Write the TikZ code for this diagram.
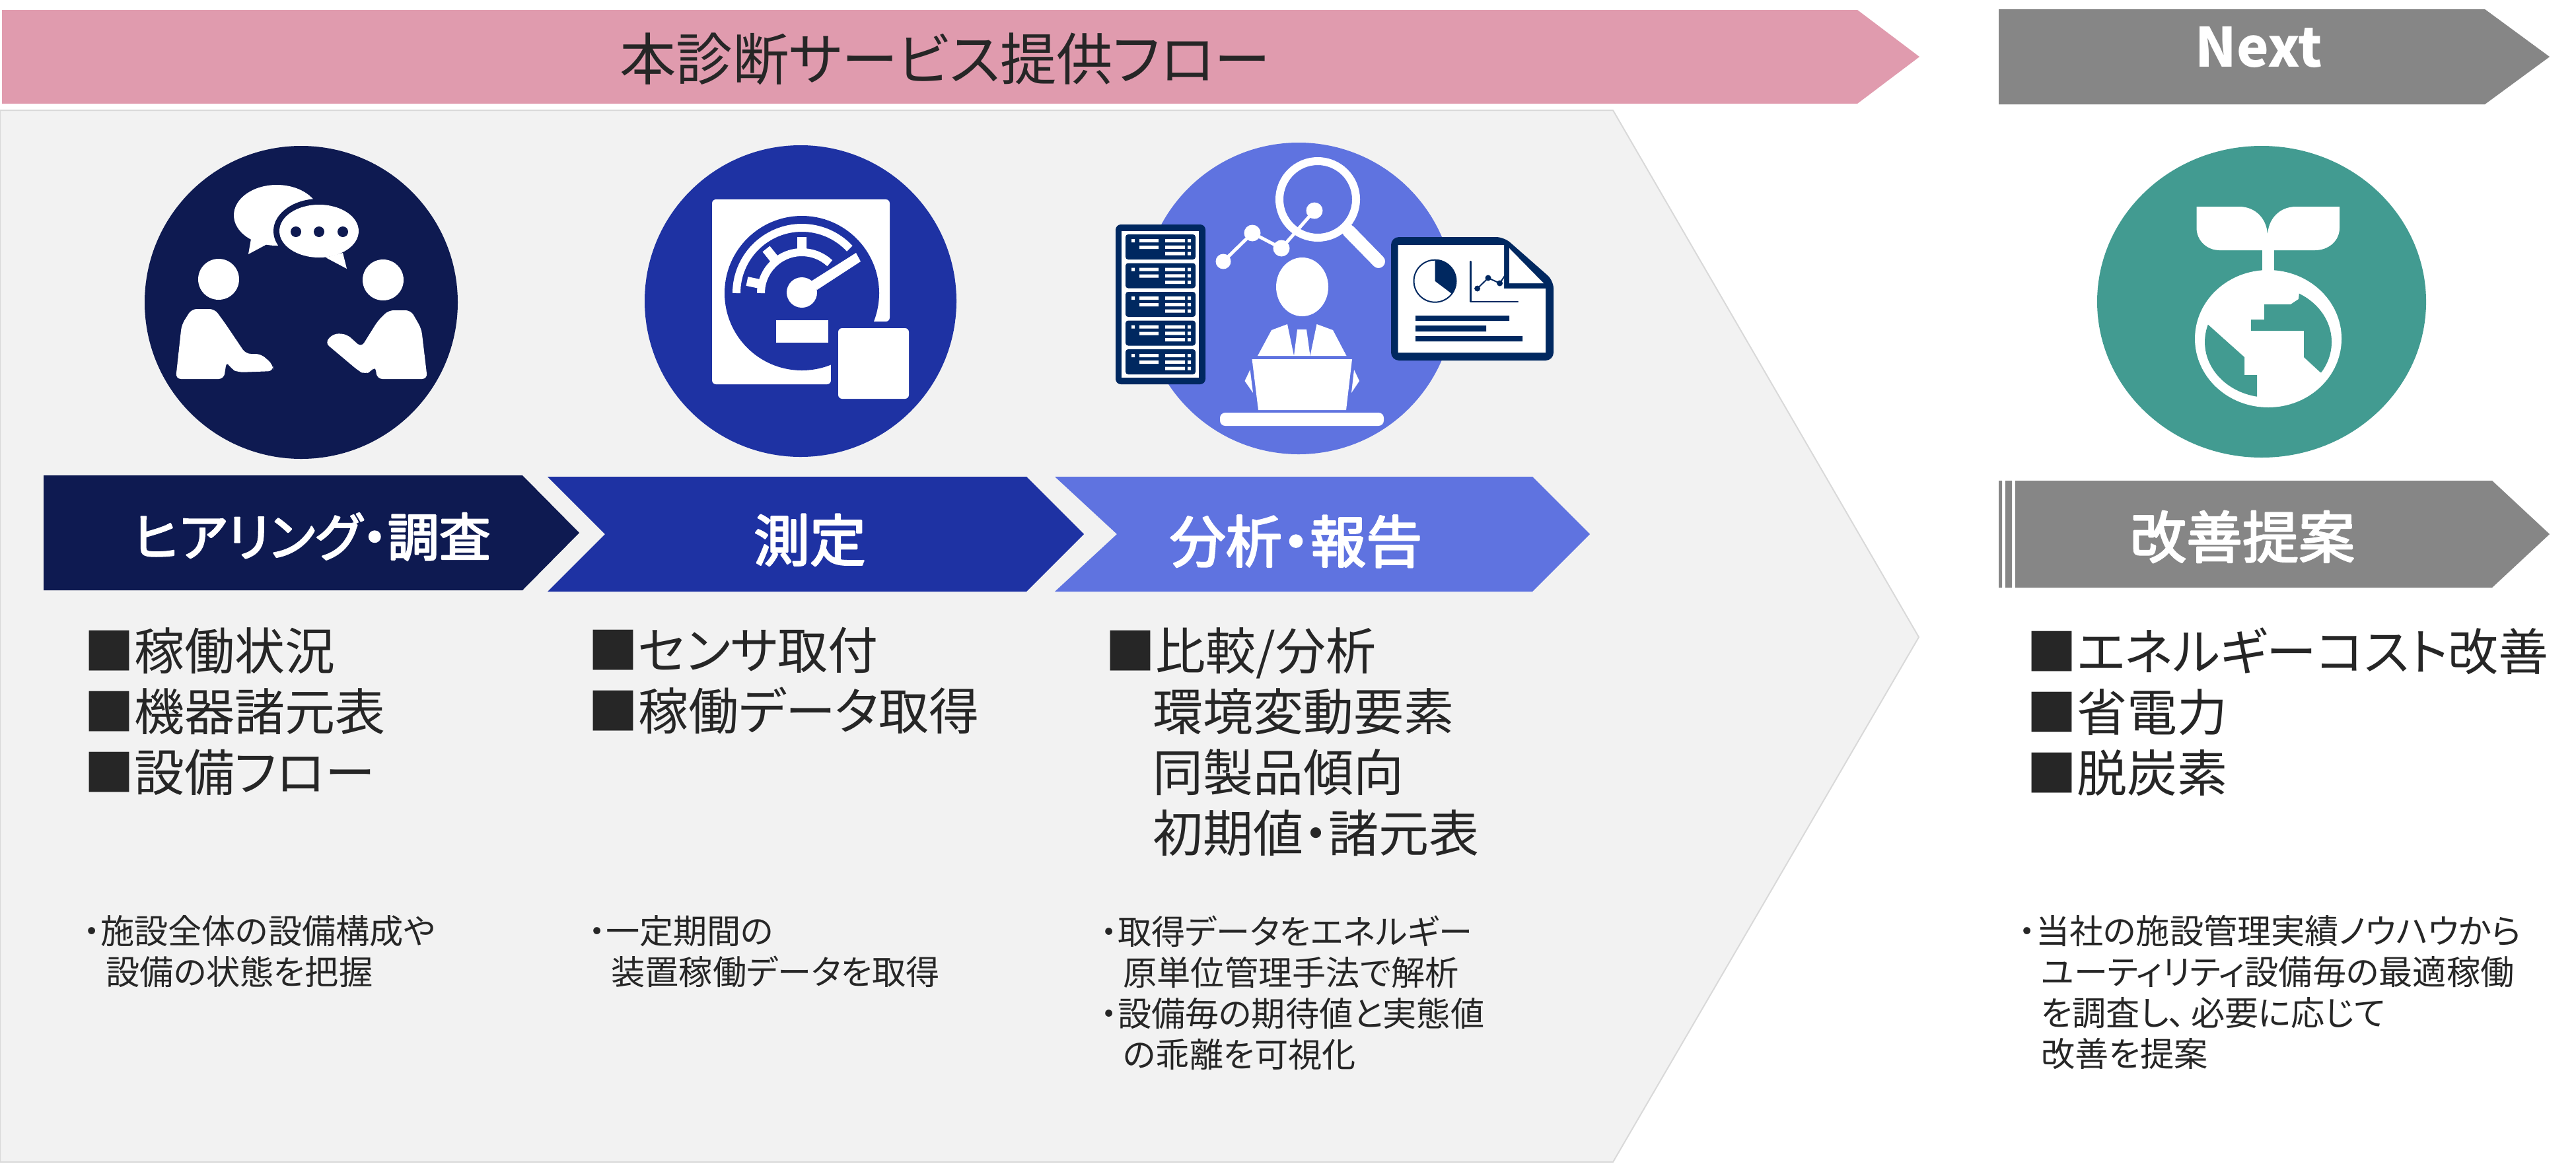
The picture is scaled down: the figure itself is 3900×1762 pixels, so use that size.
\documentclass[tikz,border=0pt]{standalone}
\usepackage{fontspec}
\setmainfont{Noto Sans CJK JP}[RawFeature=+palt]
\newfontfamily\headfont{Noto Sans CJK JP}[RawFeature=+palt,FakeBold=3]
\usetikzlibrary{positioning}
\definecolor{navy}{RGB}{14,26,81}
\definecolor{royal}{RGB}{30,50,163}
\definecolor{peri}{RGB}{95,115,224}
\definecolor{teal}{RGB}{66,155,145}
\definecolor{grayarrow}{RGB}{134,134,134}
\definecolor{pinkarrow}{RGB}{224,155,174}
\definecolor{panel}{RGB}{242,242,242}
\definecolor{docblue}{RGB}{0,40,96}
\definecolor{ink}{RGB}{38,38,38}
\tikzset{
	headtext/.style={inner sep=0pt,text=white,font=\headfont\fontsize{42.5}{50}\selectfont},
	listtext/.style={inner sep=0pt,anchor=north west,align=left,text=ink,font=\fontsize{38}{46}\selectfont},
	notetext/.style={inner sep=0pt,anchor=north west,align=left,text=ink,font=\fontsize{25.6}{31}\selectfont},
}
\begin{document}
\begin{tikzpicture}[line cap=round,line join=round,x=.5pt,y=-.5pt]
	\useasboundingbox (0,0) rectangle (3900,1762);
	% banners
	\fill[pinkarrow] (3,15)--(2812,15)--(2906,86)--(2812,157)--(3,157)--cycle;
	\fill[grayarrow] (3026,14)--(3762,14)--(3860,86)--(3762,158)--(3026,158)--cycle;
	\node[inner sep=0pt,text=ink,font=\fontsize{42.7}{50}\selectfont] (flowtitle) at (1431,89) {本診断サービス提供フロー};
	\node[inner sep=0pt,text=white,font=\bfseries\fontsize{41}{50}\selectfont] (nexttitle) at (3420,72) {Next};
	% panel
	\filldraw[fill=panel,draw=black!15,line width=1pt] (0,167)--(2442,167)--(2905,965)--(2442,1760)--(0,1760)--cycle;
	% step arrows
	\fill[navy] (66,720)--(791,720)--(877,807)--(791,894)--(66,894)--cycle;
	\fill[royal] (829,722)--(1554,722)--(1641,809)--(1554,896)--(829,896)--(916,809)--cycle;
	\fill[peri] (1597,722)--(2320,722)--(2407,809)--(2320,896)--(1597,896)--(1691,809)--cycle;
	\fill[grayarrow] (3026,728) rectangle (3031,890) (3036,728) rectangle (3046,890);
	\fill[grayarrow] (3051,728)--(3773,728)--(3860,809)--(3773,890)--(3051,890)--cycle;
	\node[headtext,font=\headfont\fontsize{39}{50}\selectfont] (hearing) at (472,813) {ヒアリング・調査};
	\node[headtext] (measure) at (1226,818) {測定};
	\node[headtext] (analysis) at (1962,820) {分析・報告};
	\node[headtext] (improve) at (3395,813) {改善提案};
	% lists
	\node[listtext] (list1) at (127,950) {■稼働状況\\■機器諸元表\\■設備フロー};
	\node[listtext] (list2) at (890,950) {■センサ取付\\■稼働データ取得};
	\node[listtext] (list3) at (1673,950) {■比較/分析\\\hspace*{36pt}環境変動要素\\\hspace*{36pt}同製品傾向\\\hspace*{36pt}初期値・諸元表};
	\node[listtext] (list4) at (3068,950) {■エネルギーコスト改善\\■省電力\\■脱炭素};
	% notes
	\node[notetext] (note1) at (126,1386) {・施設全体の設備構成や\\\hspace*{17pt}設備の状態を把握};
	\node[notetext] (note2) at (891,1386) {・一定期間の\\\hspace*{17pt}装置稼働データを取得};
	\node[notetext] (note3) at (1666,1386) {・取得データをエネルギー\\\hspace*{17pt}原単位管理手法で解析\\・設備毎の期待値と実態値\\\hspace*{17pt}の乖離を可視化};
	\node[notetext] (note4) at (3056,1386) {・当社の施設管理実績ノウハウから\\\hspace*{17pt}ユーティリティ設備毎の最適稼働\\\hspace*{17pt}を調査し、\kern4pt必要に応じて\\\hspace*{17pt}改善を提案};
	% hearing icon
	\fill[navy] (456,458) circle (237);
	\fill[white] (419,326) circle[x radius=65,y radius=46];
	\fill[white] (380,362)--(376,385)--(404,370)--(419,371)--cycle;
	\fill[navy] (483,350) circle[x radius=69,y radius=49];
	\fill[white] (483,350) circle[x radius=60,y radius=40];
	\fill[white] (519,383)--(525,407)--(493,390)--cycle;
	\foreach \x in {448,483,519}
		\fill[navy] (\x,351) circle (8);
	\fill[white] (331,423) circle (31) (580,424) circle (31);
	\fill[white,rounded corners=4pt] (266,574)--(275,492)--(290,468)--(325,468)--(341,490)--(372,536)--(395,536)--(413,552)--(414,562)--(361,564)--(350,559)--(343,547)--(339,574)--cycle;
	\fill[white,rounded corners=4pt] (647,574)--(638,498)--(622,470)--(588,470)--(572,486)--(547,526)--(525,506)--(505,505)--(492,519)--(542,561)--(552,567)--(563,562)--(568,554)--(571,574)--cycle;
	% gauge icon
	\fill[royal] (1212,456) circle (236);
	\fill[white,rounded corners=3pt] (1078,302)--(1347,302)--(1347,487)--(1258,487)--(1258,582)--(1078,582)--cycle;
	\fill[royal] (1214,444) circle (117);
	\fill[royal] (1258,487) rectangle (1347,582);
	\draw[white,line width=6pt,line cap=butt] (1115,444) arc[start angle=180,end angle=43,radius=49.5pt];
	\draw[white,line width=6pt,line cap=butt] (1152,444) arc[start angle=180,end angle=47,radius=31pt];
	\draw[white,line width=7pt,line cap=butt] (1214,377)--(1214,359) (1172,392)--(1160,377) (1155,431)--(1131,426);
	\fill[white] (1214,443) circle (23);
	\fill[white] (1296,383)--(1303,396)--(1237,439)--(1228,426)--cycle;
	\fill[white] (1175,485) rectangle (1254,519);
	\fill[white,rounded corners=3pt] (1269,497) rectangle (1376,604);
	% analysis icon
	\fill[peri] (1966,452) circle (236);
	\fill[docblue,rounded corners=4pt] (1689,340) rectangle (1825,582);
	\fill[white] (1698,350) rectangle (1815,572);
	\foreach \k in {0,43.5,87,130.5,174}{
		\fill[docblue,rounded corners=2pt] (1704,355+\k) rectangle (1810,393+\k);
		\fill[white] (1713,362+\k) rectangle (1718,367+\k) (1725,362+\k) rectangle (1754,367+\k) (1725,372+\k) rectangle (1754,377+\k);
		\foreach \j in {0,9.75,19.5}
			\fill[white] (1764,362+\k+\j) rectangle (1794,367+\k+\j) (1798,362+\k+\j) rectangle (1803,367+\k+\j);
	}
	\draw[white,line width=6pt] (1995,302) circle (58);
	\draw[white,line width=10pt] (2042,350)--(2087,396);
	\draw[white,line width=2.5pt] (1852,396)--(1896,353)--(1940,376)--(1990,319);
	\fill[white] (1852,396) circle (11.5) (1896,353) circle (12.5) (1940,376) circle (12.5) (1990,319) circle (12.5);
	\fill[white] (1971.5,434.5) circle[x radius=39.5,y radius=44.5];
	\fill[white] (1949,491)--(1959,539)--(1904,539)--(1925,500)--cycle;
	\fill[white] (1993.5,491)--(1983.5,539)--(2038.5,539)--(2018,500)--cycle;
	\fill[white] (1964,499)--(1978,499)--(1983.5,539)--(1959,539)--cycle;
	\fill[white] (1895.5,544)--(2047,544)--(2038,621)--(1905,621)--cycle;
	\fill[white] (1892.6,560)--(1897,595)--(1884.5,577)--cycle;
	\fill[white] (2050,560)--(2046,595)--(2058,577)--cycle;
	\fill[white,rounded corners=4pt] (1847,625) rectangle (2095,645);
	\fill[docblue,rounded corners=6pt] (2106,359)--(2277,359)--(2352,425)--(2352,546)--(2106,546)--cycle;
	\fill[white] (2116.5,371)--(2277,371)--(2277,437)--(2340,437)--(2340,534)--(2116.5,534)--cycle;
	\fill[white] (2285,376)--(2285,429)--(2337,429)--cycle;
	\filldraw[fill=white,draw=docblue,line width=1pt] (2172.5,425.7) circle (32);
	\fill[docblue] (2172.5,425.7)--(2172.5,393.7) arc[start angle=90,end angle=-37,radius=16pt]--cycle;
	\fill[docblue] (2143,478) rectangle (2285,486) (2143,493) rectangle (2250,502) (2143,509) rectangle (2305,517);
	\draw[docblue,line width=1.2pt] (2226.5,396)--(2226.5,457)--(2298,457);
	\draw[docblue,line width=1pt] (2236.6,437)--(2253,421)--(2270.6,429)--(2278,418);
	\fill[docblue] (2236.6,437) circle (4.5) (2253,421) circle (4.5) (2270.6,429) circle (4.5);
	% improvement icon
	\fill[teal] (3424,457) circle[x radius=249,y radius=236];
	\fill[white] (3434,513) circle[x radius=111,y radius=104];
	\begin{scope}
		\clip (3434,518) circle[x radius=96,y radius=84];
		\fill[teal] (3341,490)--(3398,541)--(3398,568)--(3417,568)--(3417,610)--(3320,610)--(3320,490)--cycle;
		\fill[teal] (3482,430)--(3480,453)--(3468,461)--(3428,461)--(3428,484)--(3408,484)--(3408,501)--(3488,501)--(3488,541)--(3513,564)--(3540,564)--(3540,430)--cycle;
	\end{scope}
	\fill[white] (3425,376) rectangle (3443,411);
	\fill[white] (3325.5,313)--(3390,313) .. controls (3415,313) and (3433,332) .. (3433,358) .. controls (3433,332) and (3451,313) .. (3476,313)--(3542,313)--(3542,345) .. controls (3542,365) and (3525,379) .. (3505,379)--(3360,379) .. controls (3342,379) and (3325.5,365) .. (3325.5,345)--cycle;
\end{tikzpicture}
\end{document}
